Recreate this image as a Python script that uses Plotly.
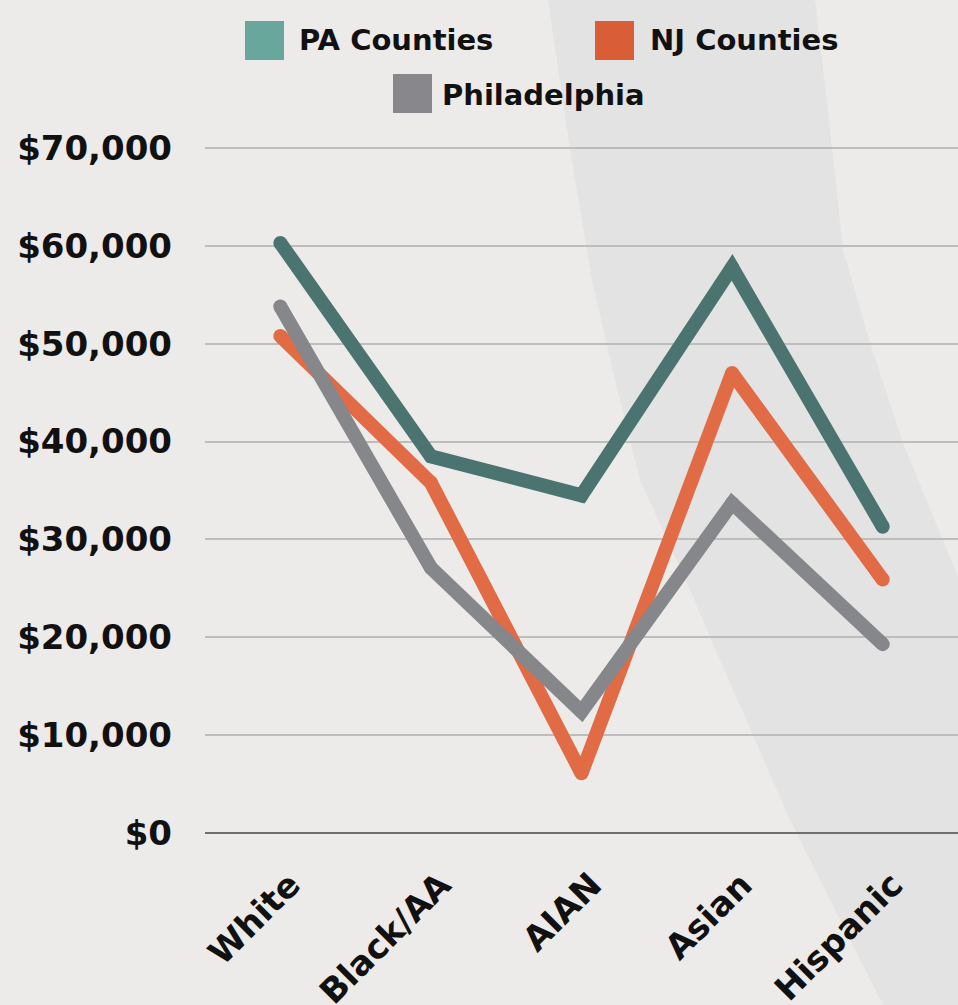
import plotly.graph_objects as go

groups = ["White", "Black/AA", "AIAN", "Asian", "Hispanic"]
pa_counties = [60300, 38500, 34500, 57800, 31300]
nj_counties = [50800, 35800, 6100, 47000, 25900]
philadelphia = [53800, 27100, 12400, 33700, 19300]

series_names = ["PA Counties", "NJ Counties", "Philadelphia"]
line_colors = ["#4b7471", "#e16b45", "#86878b"]
swatch_colors = ["#68a89c", "#d95d37", "#88888c"]

W, H = 958, 1005
L, R, T, B = 205, 0, 140, 1005 - 833
FONT = "DejaVu Sans"
BG = "#ecebe9"


def px(x, y):
    # window pixel position -> paper coordinates
    return (x - L) / (W - L - R), (H - B - y) / (H - T - B)


fig = go.Figure()
for name, vals, col in zip(series_names, [pa_counties, nj_counties, philadelphia], line_colors):
    fig.add_trace(go.Scatter(
        x=groups, y=vals, name=name, mode="lines+markers",
        line=dict(color=col, width=14),
        marker=dict(color=col, size=14, line=dict(width=0)),
        showlegend=False, hoverinfo="skip",
    ))

# decorative curved band in the background
left_curve = [(548, 0), (570, 150), (592, 280), (615, 380), (640, 480), (690, 590),
              (720, 660), (790, 820), (883, 1005)]
right_curve = [(958, 577), (903, 443), (870, 343), (843, 250), (830, 130), (815, 0)]
pts = left_curve + [(958, 1005)] + right_curve
path = "M " + " L ".join("%.4f,%.4f" % px(x, y) for x, y in pts) + " Z"

shapes = [dict(type="path", path=path, xref="paper", yref="paper",
               fillcolor="#e3e3e3", line=dict(width=0), layer="below")]

# legend drawn by hand (square swatches)
legend_items = [(245, 21, 297, 40), (595, 21, 648, 40), (393, 74, 440, 95)]
annotations = []
for (sx, sy, tx, ty), name, col in zip(legend_items, series_names, swatch_colors):
    x0, y0 = px(sx, sy + 39)
    x1, y1 = px(sx + 39, sy)
    shapes.append(dict(type="rect", xref="paper", yref="paper", x0=x0, y0=y0, x1=x1, y1=y1,
                       fillcolor=col, line=dict(width=0)))
    ax, ay = px(tx, ty)
    annotations.append(dict(text=name, x=ax, y=ay, xref="paper", yref="paper",
                            xanchor="left", yanchor="middle", showarrow=False,
                            font=dict(family=FONT, size=29, color="#111111", weight="bold")))

ymax = 70000 * (833 - 140) / (833 - 148)

fig.update_layout(
    width=W, height=H,
    margin=dict(l=L, r=R, t=T, b=B),
    paper_bgcolor=BG, plot_bgcolor="rgba(0,0,0,0)",
    shapes=shapes, annotations=annotations,
    showlegend=False,
)
fig.update_yaxes(
    range=[0, ymax], tick0=0, dtick=10000, automargin=False,
    tickprefix="$", tickformat=",",
    gridcolor="#bdbdbd", gridwidth=1.5,
    zeroline=True, zerolinecolor="#6f6f6f", zerolinewidth=2,
    ticklabelstandoff=32,
    tickfont=dict(family=FONT, size=34, color="#111111", weight="bold"),
)
fig.update_xaxes(
    range=[-0.5, 4.5], tickangle=-45, showgrid=False, showline=False, automargin=False,
    ticklabelstandoff=24, ticklabelshift=10,
    tickfont=dict(family=FONT, size=34, color="#111111", weight="bold"),
)

page_css = ("document.body.style.margin='0';document.body.style.overflow='hidden';"
            "document.body.style.background='%s';" % BG)
fig.write_html("out.html", post_script=page_css, config={"displayModeBar": False})
